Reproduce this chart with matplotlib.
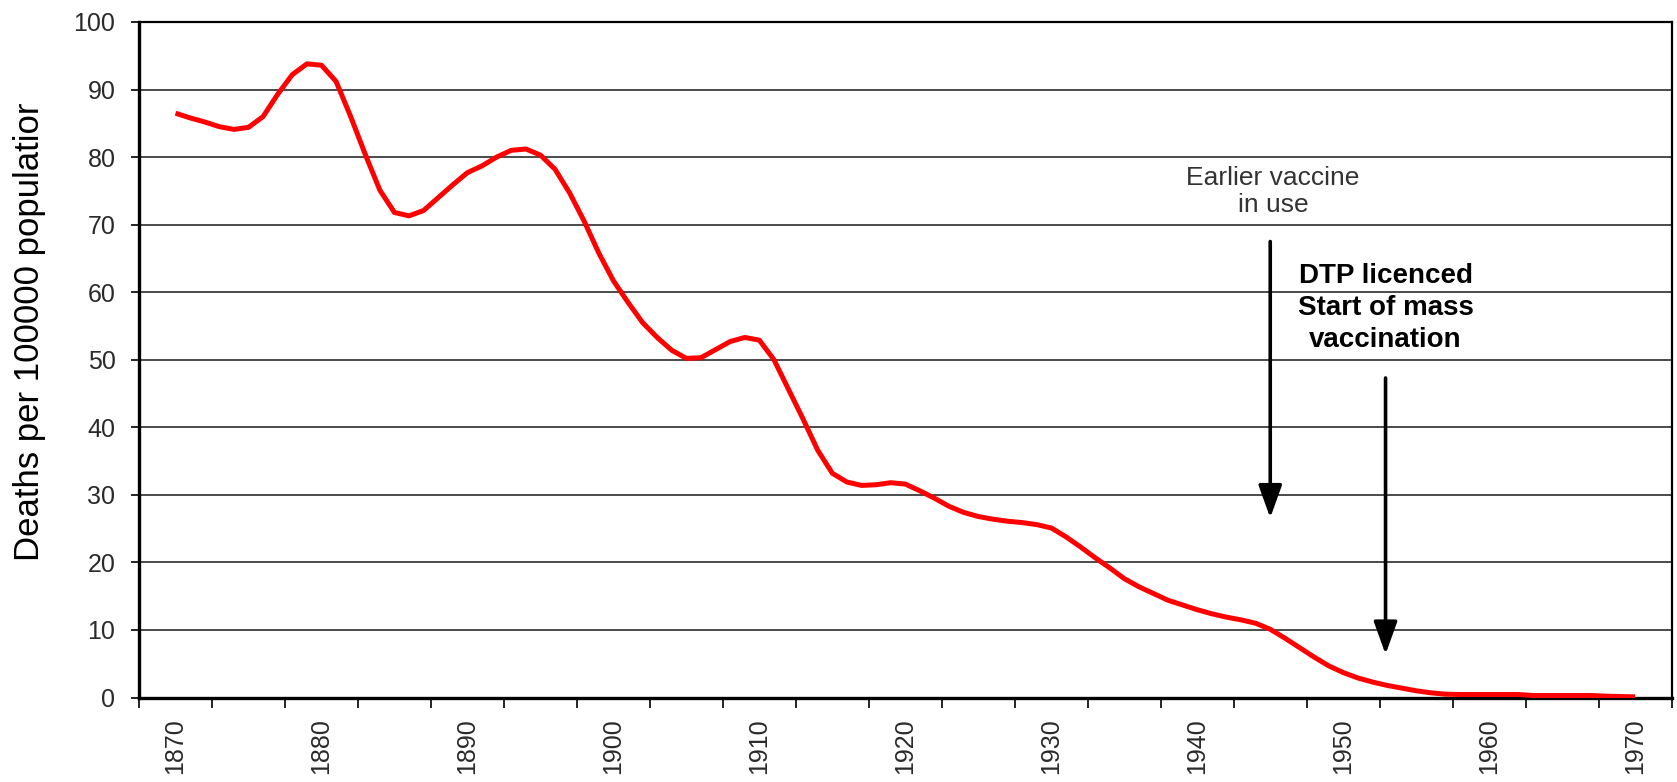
import matplotlib
matplotlib.use("Agg")
import matplotlib.pyplot as plt
from matplotlib.ticker import MultipleLocator, FixedLocator, NullFormatter

plt.rcParams['font.family'] = ['Liberation Sans', 'DejaVu Sans']

# deaths per 100000
years = list(range(1870, 1971))
deaths = [86.5, 85.8, 85.2, 84.5, 84.1, 84.4, 86.0, 89.3, 92.2, 93.8,
          93.6, 91.2, 86.0, 80.4, 75.1, 71.8, 71.3, 72.1, 74.0, 75.9,
          77.7, 78.7, 80.0, 81.0, 81.2, 80.3, 78.2, 74.7, 70.5, 65.8,
          61.7, 58.5, 55.5, 53.3, 51.4, 50.2, 50.3, 51.5, 52.7, 53.3,
          52.9, 50.0, 45.6, 41.2, 36.6, 33.2, 31.9, 31.4, 31.5, 31.8,
          31.6, 30.6, 29.5, 28.3, 27.4, 26.8, 26.4, 26.1, 25.9, 25.6,
          25.1, 23.8, 22.3, 20.7, 19.2, 17.6, 16.4, 15.4, 14.4, 13.7,
          13.0, 12.4, 11.9, 11.5, 11.0, 10.1, 8.8, 7.4, 6.0, 4.7,
          3.7, 2.9, 2.3, 1.8, 1.4, 1.0, 0.7, 0.5, 0.45, 0.45,
          0.45, 0.45, 0.45, 0.3, 0.3, 0.3, 0.3, 0.3, 0.2, 0.15,
          0.1]
year_labels = [1870, 1880, 1890, 1900, 1910, 1920, 1930, 1940, 1950, 1960, 1970]

fig = plt.figure(figsize=(16.77, 7.82), dpi=100)
ax = fig.add_axes([0.0829, 0.108, 0.9139, 0.8639])

ax.plot(years, deaths, color='red', lw=3.6, solid_capstyle='butt', zorder=3)

ax.set_xlim(1867.5, 1972.5)
ax.set_ylim(0, 100)

# tick marks sit between the 5-year categories, labels in the middle
ax.xaxis.set_major_locator(MultipleLocator(5, offset=2.5))
ax.xaxis.set_major_formatter(NullFormatter())
ax.xaxis.set_minor_locator(FixedLocator(year_labels))
ax.set_xticklabels([str(y) for y in year_labels], minor=True, rotation=90,
                   fontsize=18, color='#2a2a2a')
ax.tick_params(axis='x', which='major', length=7, width=1.2, direction='out')
ax.tick_params(axis='x', which='minor', length=0, pad=15)

ax.yaxis.set_major_locator(MultipleLocator(10))
ax.tick_params(axis='y', length=6, width=1.2, direction='out', pad=11,
               labelsize=18, labelcolor='#2a2a2a')

ax.grid(axis='y', color='#1a1a1a', lw=1.1)
ax.set_axisbelow(True)
for side in ['left', 'bottom']:
    ax.spines[side].set_linewidth(2.4)
for side in ['top', 'right']:
    ax.spines[side].set_linewidth(1.6)

fig.text(30 / 1677, 1 - 332 / 782, 'Deaths per 100000 populatior', rotation=90,
         ha='center', va='center', fontsize=25, color='black')

# annotations
ax.text(1945.2, 74.9, 'Earlier vaccine\nin use', ha='center', va='center',
        fontsize=19, color='#333333', linespacing=1.2)
ax.text(1952.9, 57.7, 'DTP licenced\nStart of mass\nvaccination', ha='center',
        va='center', fontsize=20, fontweight='bold', color='black', linespacing=1.3)

arrow = dict(arrowstyle='-|>,head_length=1.0,head_width=0.36', mutation_scale=20,
             lw=2.6, color='black', shrinkA=0, shrinkB=0)
ax.annotate('', xy=(1945.0, 26.6), xytext=(1945.0, 67.5), arrowprops=arrow)
ax.annotate('', xy=(1952.9, 6.4), xytext=(1952.9, 47.3), arrowprops=arrow)

fig.savefig('out.png', dpi=100)
